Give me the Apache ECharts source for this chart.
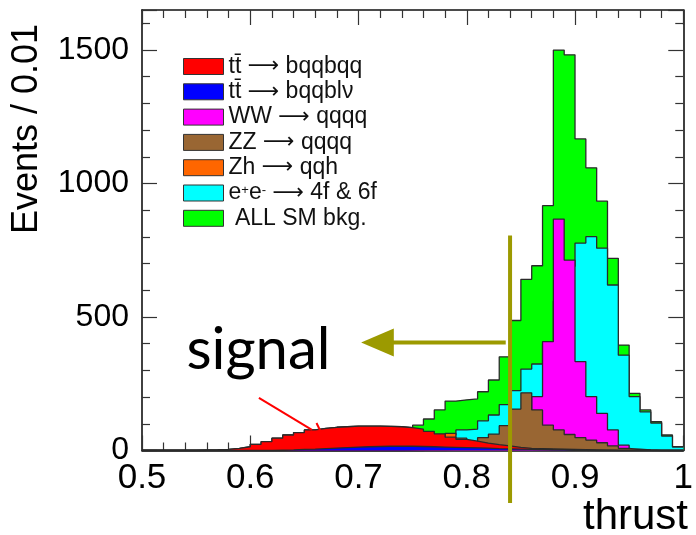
<!DOCTYPE html>
<html><head><meta charset="utf-8">
<script src="https://cdn.jsdelivr.net/npm/echarts@6/dist/echarts.min.js"></script>
<style>html,body{margin:0;padding:0;background:#fff}#c{width:696px;height:535px}</style>
</head><body><div id="c"></div>
<script>
// ---- data (50 bins of width 0.01 from 0.50 to 1.00) ----
const binStart = 0.5;
const binWidth = 0.01;
const xTickLabels = ['0.5','0.6','0.7','0.8','0.9','1'];
const yTickValues = [0, 500, 1000, 1500];

const seriesNames = ['tt\u0304 \u2192 bqqbqq', 'tt\u0304 \u2192 bqqbl\u03bd', 'WW \u2192 qqqq', 'ZZ \u2192 qqqq', 'Zh \u2192 qqh', 'e+e- \u2192 4f & 6f', ' ALL SM bkg.'];

const ttHad = [0,0,0,0,0,1,2,4,8,14, 23,33,46,58,67,77,83,87,89,91, 91,91,90,89,86,80,72,62,50,42, 35,28,22,17,12,8,5,3,2,1, 1,0,0,0,0,0,0,0,0,0];
const ttSemi = [0,0,0,0,0,0,0,0,0,0, 0,0,1,2,4,5,7,9,11,13, 14,15,16,16,16,15,14,13,12,11, 10,9,7,6,5,4,3,2,2,1, 1,0,0,0,0,0,0,0,0,0];
const wwQQQQ = [0,0,0,0,0,0,0,0,0,0, 0,0,0,0,0,0,0,0,0,0, 0,0,0,0,0,0,0,0,5,10, 15,20,30,50,70,105,202,408,867,713, 333,202,139,77,20,5,2,0,0,0];
const zzQQQQ = [0,0,0,0,0,0,0,0,0,0, 0,0,0,0,0,0,0,0,0,0, 0,0,0,0,0,0,5,8,15,22, 32,48,61,93,155,216,152,95,77,60, 48,39,29,17,8,3,1,0,0,0];
const zhQQH = [0,0,0,0,0,0,0,0,0,0, 0,0,0,0,0,0,0,0,0,0, 0,0,0,0,2,5,8,15,64,46, 12,10,9,8,8,7,7,6,5,4, 3,2,1,0,0,0,0,0,0,0];
const ee4f6f = [0,0,0,0,0,0,0,0,0,0, 0,0,0,0,0,0,0,0,0,0, 0,0,0,0,0,0,35,60,58,77, 80,111,133,172,224,305,324,400,560,690, 777,801,758,620,357,202,145,103,54,13];
const allSM = [0,0,0,0,0,1,2,4,8,14, 23,33,46,58,67,77,83,87,89,91, 91,91,90,89,86,95,118,152,185,190, 193,220,264,351,487,641,692,917,1500,1482, 1167,1059,934,720,395,214,152,108,58,14];

const seriesColors = ['#ff0000','#0000ff','#ff00ff','#996633','#ff6600','#00ffff','#00ff00'];
const seriesValues = [ttHad, ttSemi, wwQQQQ, zzQQQQ, zhQQH, ee4f6f, allSM];
const drawOrder = [6, 5, 2, 3, 4, 0, 1]; // back to front

// annotation values (data units)
const cutValue = 0.84;
const cutTop = 805, cutBottom = -197;
const arrowLevel = 405, arrowTail = 0.836, arrowBase = 0.7317, arrowTip = 0.7024;
const signalAnchor = [0.541, 376];
const pointerFrom = [0.608, 197], pointerTo = [0.657, 77];
const pointerTickFrom = [0.6612, 103], pointerTickTo = [0.6648, 73];

function histData(vals){
  const d = vals.map((v,i)=>[+(binStart + binWidth*i).toFixed(2), v]);
  d.push([+(binStart + binWidth*vals.length).toFixed(2), vals[vals.length-1]]);
  return d;
}

const chart = echarts.init(document.getElementById('c'), null, {renderer:'canvas'});
const FONT = 'Liberation Sans, Arial, Helvetica, sans-serif';

const series = drawOrder.map((k, j) => ({
  type:'line', name: seriesNames[k], step:'end', data: histData(seriesValues[k]),
  symbol:'none', showSymbol:false, animation:false, z: 2 + j*0.01, zlevel:0,
  lineStyle:{color:'#2a2a2a', width:1.3},
  itemStyle:{color: seriesColors[k]},
  areaStyle:{color: seriesColors[k], opacity:1},
  emphasis:{disabled:true}, silent:true
}));

const axisCommon = {
  type:'value', min:0.5, max:1.0, interval:0.1,
  axisLine:{show:true, onZero:false, lineStyle:{color:'#111', width:1.6}},
  axisTick:{show:true, inside:true, length:15, lineStyle:{color:'#333', width:1.2}},
  minorTick:{show:true, splitNumber:5, length:8, lineStyle:{color:'#333', width:1.2}},
  splitLine:{show:false}, minorSplitLine:{show:false}
};

const LH = 18;
chart.setOption({
  animation:false,
  backgroundColor:'#fff',
  grid:{left:142, right:8, top:10, bottom:84.5, containLabel:false, show:false},
  legend:{
    show:true, orient:'vertical', left:183, top:55, padding:0, itemWidth:40, itemHeight:16, itemGap:2.3,
    icon:'rect', selectedMode:false,
    data: seriesNames.slice(),
    itemStyle:{borderColor:'#333', borderWidth:1},
    textStyle:{fontFamily:FONT, fontSize:23, color:'#111', lineHeight:LH,
      rich:{
        a:{fontFamily:FONT, fontSize:23, color:'#111', lineHeight:LH},
        r:{fontFamily:'DejaVu Sans', fontSize:22, color:'#111', lineHeight:LH},
        s:{fontFamily:FONT, fontSize:13, color:'#111', lineHeight:LH, verticalAlign:'top'}
      }},
    formatter: function(name){
      const parts = name.split('\u2192');
      if (parts.length < 2) return '{a|' + name + '}';
      let left = parts[0];
      let leftRich = (left.indexOf('e+e-') === 0) ? '{a|e}{s|+}{a|e}{s|-}{a| }' : '{a|' + left + '}';
      return leftRich + '{r|\u27f6}{a|' + parts[1] + '}';
    }
  },
  xAxis:[
    Object.assign({}, axisCommon, {position:'bottom',
      axisLabel:{show:true, fontFamily:FONT, fontSize:35, color:'#000', margin:10,
        formatter:function(v){ return xTickLabels[Math.round((v-0.5)/0.1)]; }}}),
    Object.assign({}, axisCommon, {position:'top', axisLabel:{show:false}})
  ],
  yAxis:[
    {type:'value', min:0, max:1650, interval:500, position:'left',
      axisLine:{show:true, onZero:false, lineStyle:{color:'#111', width:1.6}},
      axisTick:{show:true, inside:true, length:15, lineStyle:{color:'#333', width:1.2}},
      minorTick:{show:true, splitNumber:5, length:8, lineStyle:{color:'#333', width:1.2}},
      splitLine:{show:false},
      axisLabel:{show:true, fontFamily:FONT, fontSize:32, color:'#000', margin:13,
        formatter:function(v){ return yTickValues.indexOf(v) >= 0 ? String(v) : ''; }}},
    {type:'value', min:0, max:1650, interval:500, position:'right',
      axisLine:{show:true, onZero:false, lineStyle:{color:'#111', width:1.6}},
      axisTick:{show:true, inside:true, length:15, lineStyle:{color:'#333', width:1.2}},
      minorTick:{show:true, splitNumber:5, length:8, lineStyle:{color:'#333', width:1.2}},
      splitLine:{show:false}, axisLabel:{show:false}}
  ],
  series: series
});

const P = (pt) => chart.convertToPixel({xAxisIndex:0, yAxisIndex:0}, pt);
const OLIVE = '#9c9a00';
const c1 = P([cutValue, cutTop]), c2 = P([cutValue, cutBottom]);
const a1 = P([arrowTail, arrowLevel]), a2 = P([arrowBase, arrowLevel]), a3 = P([arrowTip, arrowLevel]);
const s0 = P(signalAnchor);
const r1 = P(pointerFrom), r2 = P(pointerTo), t1 = P(pointerTickFrom), t2 = P(pointerTickTo);

chart.setOption({
  graphic:[
    {type:'line', z:100, shape:{x1:c1[0], y1:c1[1], x2:c2[0], y2:c2[1]}, style:{stroke:OLIVE, lineWidth:4}},
    {type:'line', z:100, shape:{x1:a1[0], y1:a1[1], x2:a2[0], y2:a2[1]}, style:{stroke:OLIVE, lineWidth:4}},
    {type:'polygon', z:100, shape:{points:[[a3[0], a3[1]],[a2[0]+1, a2[1]-14],[a2[0]+1, a2[1]+14]]}, style:{fill:OLIVE}},
    {type:'text', z:100, x:s0[0], y:s0[1], style:{text:'signal', fill:'#000', font:'58px Lato, "Open Sans", sans-serif', align:'left', verticalAlign:'middle'}},
    {type:'line', z:100, shape:{x1:r1[0], y1:r1[1], x2:r2[0], y2:r2[1]}, style:{stroke:'#ff0000', lineWidth:2}},
    {type:'line', z:100, shape:{x1:t1[0], y1:t1[1], x2:t2[0], y2:t2[1]}, style:{stroke:'#ff0000', lineWidth:2}},
    {type:'text', z:100, x:27, y:129, rotation:Math.PI/2, style:{text:'Events / 0.01', fill:'#000', font:'36px ' + FONT, align:'center', verticalAlign:'middle'}},
    {type:'text', z:100, x:688, y:517, style:{text:'thrust', fill:'#000', font:'42px ' + FONT, align:'right', verticalAlign:'middle'}}
  ]
});
</script>
</body></html>
